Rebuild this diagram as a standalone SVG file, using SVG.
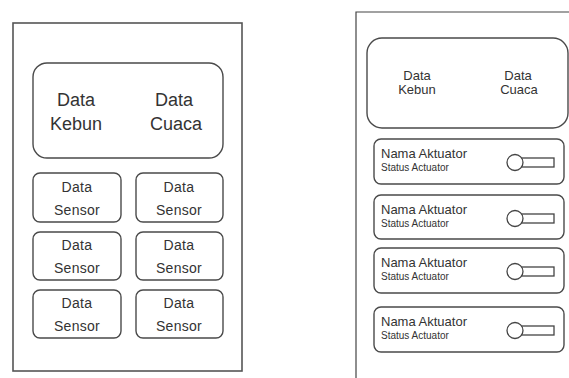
<svg xmlns="http://www.w3.org/2000/svg" width="569" height="378" viewBox="0 0 569 378">
<style>
.frame{fill:#fff;stroke:#555;stroke-width:1.6}
.box{fill:#fff;stroke:#4a4a4a;stroke-width:1.4}
text{font-family:"Liberation Sans",Arial,sans-serif;fill:#333}
.big{font-size:18px;text-anchor:middle}
.sen{font-size:14px;text-anchor:middle;letter-spacing:0.3px}
.mid{font-size:13px;text-anchor:middle}
.nm{font-size:13px}
.st{font-size:10px}
.tg{fill:#fff;stroke:#444;stroke-width:1.3}
</style>
<rect width="569" height="378" fill="#fff"/>
<g id="left-screen">
<rect class="frame" x="13" y="23" width="229" height="348"/>
</g>
<g id="left-header">
<rect class="box" x="33" y="63" width="190" height="95" rx="14"/>
<text class="big" x="76" y="106">Data</text>
<text class="big" x="76" y="130">Kebun</text>
<text class="big" x="174" y="106">Data</text>
<text class="big" x="176" y="130">Cuaca</text>
</g>
<g id="sensor-1"><rect class="box" x="33" y="173" width="88" height="49" rx="7"/><text class="sen" x="77" y="192">Data</text><text class="sen" x="77" y="215">Sensor</text></g>
<g id="sensor-2"><rect class="box" x="136" y="173" width="87" height="49" rx="7"/><text class="sen" x="179" y="192">Data</text><text class="sen" x="179" y="215">Sensor</text></g>
<g id="sensor-3"><rect class="box" x="33" y="232" width="88" height="48" rx="7"/><text class="sen" x="77" y="250">Data</text><text class="sen" x="77" y="273">Sensor</text></g>
<g id="sensor-4"><rect class="box" x="136" y="232" width="87" height="48" rx="7"/><text class="sen" x="179" y="250">Data</text><text class="sen" x="179" y="273">Sensor</text></g>
<g id="sensor-5"><rect class="box" x="33" y="290" width="88" height="48" rx="7"/><text class="sen" x="77" y="308">Data</text><text class="sen" x="77" y="331">Sensor</text></g>
<g id="sensor-6"><rect class="box" x="136" y="290" width="87" height="48" rx="7"/><text class="sen" x="179" y="308">Data</text><text class="sen" x="179" y="331">Sensor</text></g>
<g id="right-screen">
<path d="M356 378 V12 H569" fill="none" stroke="#444" stroke-width="1.2"/>
</g>
<g id="right-header">
<rect class="box" x="367" y="38" width="201" height="90" rx="15"/>
<text class="mid" x="417" y="80">Data</text>
<text class="mid" x="417" y="94">Kebun</text>
<text class="mid" x="518" y="80">Data</text>
<text class="mid" x="519" y="94">Cuaca</text>
</g>
<g id="actuator-1"><rect class="box" x="374" y="139" width="190" height="45" rx="7"/><text class="nm" x="381" y="158">Nama Aktuator</text><text class="st" x="381" y="171">Status Actuator</text><rect class="tg" x="515" y="158" width="39" height="9"/><circle class="tg" cx="515" cy="162.5" r="8"/></g>
<g id="actuator-2"><rect class="box" x="374" y="195" width="190" height="44" rx="7"/><text class="nm" x="381" y="214">Nama Aktuator</text><text class="st" x="381" y="227">Status Actuator</text><rect class="tg" x="515" y="214" width="39" height="9"/><circle class="tg" cx="515" cy="218.5" r="8"/></g>
<g id="actuator-3"><rect class="box" x="374" y="248" width="190" height="45" rx="7"/><text class="nm" x="381" y="267">Nama Aktuator</text><text class="st" x="381" y="280">Status Actuator</text><rect class="tg" x="515" y="267" width="39" height="9"/><circle class="tg" cx="515" cy="271.5" r="8"/></g>
<g id="actuator-4"><rect class="box" x="374" y="307" width="190" height="45" rx="7"/><text class="nm" x="381" y="326">Nama Aktuator</text><text class="st" x="381" y="339">Status Actuator</text><rect class="tg" x="515" y="326" width="39" height="9"/><circle class="tg" cx="515" cy="330.5" r="8"/></g>
<g id="connectors"></g>
</svg>
